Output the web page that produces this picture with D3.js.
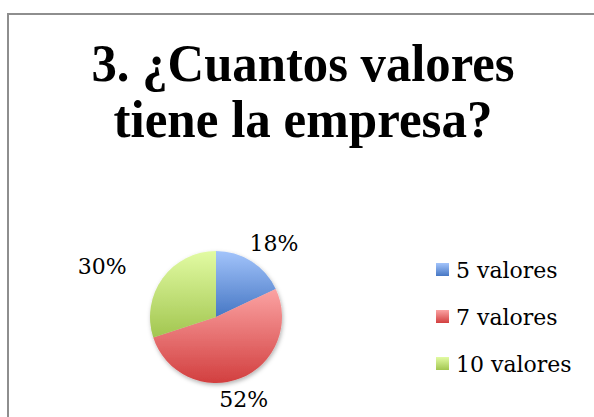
<!DOCTYPE html>
<html lang="es">
<head>
<meta charset="utf-8">
<title>¿Cuantos valores tiene la empresa?</title>
<script src="https://cdnjs.cloudflare.com/ajax/libs/d3/7.8.5/d3.min.js"></script>
<style>
  body { margin: 0; background: #fff; }
  svg { display: block; }
</style>
</head>
<body>
<div id="chart"></div>
<script>
// data
var categories = ["5 valores", "7 valores", "10 valores"];
var values = [18, 52, 30];
var titleLines = ["3.  \u00bfCuantos valores", "tiene la empresa?"];

var width = 594, height = 417;
var cx = 216, cy = 317, radius = 66;

// top / bottom gradient stops per slice
var colorTop = ["#a3c4fb", "#fba3a3", "#e2fba3"];
var colorBottom = ["#4677c4", "#d23f3f", "#a2c650"];

var svg = d3.select("#chart").append("svg")
  .attr("width", width)
  .attr("height", height);

var defs = svg.append("defs");

categories.forEach(function(c, i) {
  var g = defs.append("linearGradient")
    .attr("id", "grad" + i)
    .attr("x1", 0).attr("y1", 0).attr("x2", 0).attr("y2", 1);
  g.append("stop").attr("offset", "0%").attr("stop-color", colorTop[i]);
  g.append("stop").attr("offset", "100%").attr("stop-color", colorBottom[i]);
});

var shadow = defs.append("filter").attr("id", "shadow")
  .attr("x", "-20%").attr("y", "-20%").attr("width", "140%").attr("height", "140%");
shadow.append("feDropShadow")
  .attr("dx", 1).attr("dy", 2).attr("stdDeviation", 2)
  .attr("flood-color", "#000").attr("flood-opacity", 0.3);

// frame
svg.append("rect")
  .attr("x", 8).attr("y", 14)
  .attr("width", 700).attr("height", 500)
  .attr("fill", "none")
  .attr("stroke", "#8e8e8e")
  .attr("stroke-width", 2);

// title, squeezed to the width of the original lines
var titleWidth = [423, 379];
svg.append("g").selectAll("text")
  .data(titleLines)
  .enter().append("text")
    .attr("x", 303)
    .attr("y", function(d, i) { return 81 + i * 56; })
    .attr("text-anchor", "middle")
    .attr("font-family", "'Liberation Serif', serif")
    .attr("font-weight", "bold")
    .attr("font-size", 52)
    .attr("textLength", function(d, i) { return titleWidth[i]; })
    .attr("lengthAdjust", "spacingAndGlyphs")
    .attr("fill", "#000")
    .text(function(d) { return d; });

// pie
var pie = d3.pie().sort(null).value(function(d) { return d; });
var arc = d3.arc().innerRadius(0).outerRadius(radius);
var arcs = pie(values);

var pg = svg.append("g")
  .attr("transform", "translate(" + cx + "," + cy + ")");

pg.append("g").attr("filter", "url(#shadow)")
  .selectAll("path")
  .data(arcs)
  .enter().append("path")
    .attr("d", arc)
    .attr("fill", function(d, i) { return "url(#grad" + i + ")"; });

// labels outside, pushed by their own size
var labelNudge = [[3, -1], [-10, 2], [-31, 0]];
pg.selectAll("text.lbl")
  .data(arcs)
  .enter().append("text")
    .attr("class", "lbl")
    .attr("font-family", "'DejaVu Serif', serif")
    .attr("font-size", 22)
    .attr("fill", "#000")
    .attr("text-anchor", "middle")
    .text(function(d) { return d.data + "%"; })
    .each(function(d, i) {
      var a = (d.startAngle + d.endAngle) / 2;
      var w = this.getComputedTextLength(), h = 16;
      var r = radius + 12;
      var x = Math.sin(a) * (r + w / 2) + labelNudge[i][0];
      var y = -Math.cos(a) * (r + h / 2) + labelNudge[i][1];
      d3.select(this).attr("x", x).attr("y", y + h / 2);
    });

// legend
var legend = svg.append("g").attr("transform", "translate(436,263)");
var rows = legend.selectAll("g")
  .data(categories)
  .enter().append("g")
    .attr("transform", function(d, i) { return "translate(0," + (i * 47) + ")"; });
rows.append("rect")
  .attr("width", 13).attr("height", 13)
  .attr("fill", function(d, i) { return "url(#grad" + i + ")"; });
rows.append("text")
  .attr("x", 20).attr("y", 15)
  .attr("font-family", "'DejaVu Serif', serif")
  .attr("font-size", 22)
  .attr("fill", "#000")
  .text(function(d) { return d; });
</script>
</body>
</html>
